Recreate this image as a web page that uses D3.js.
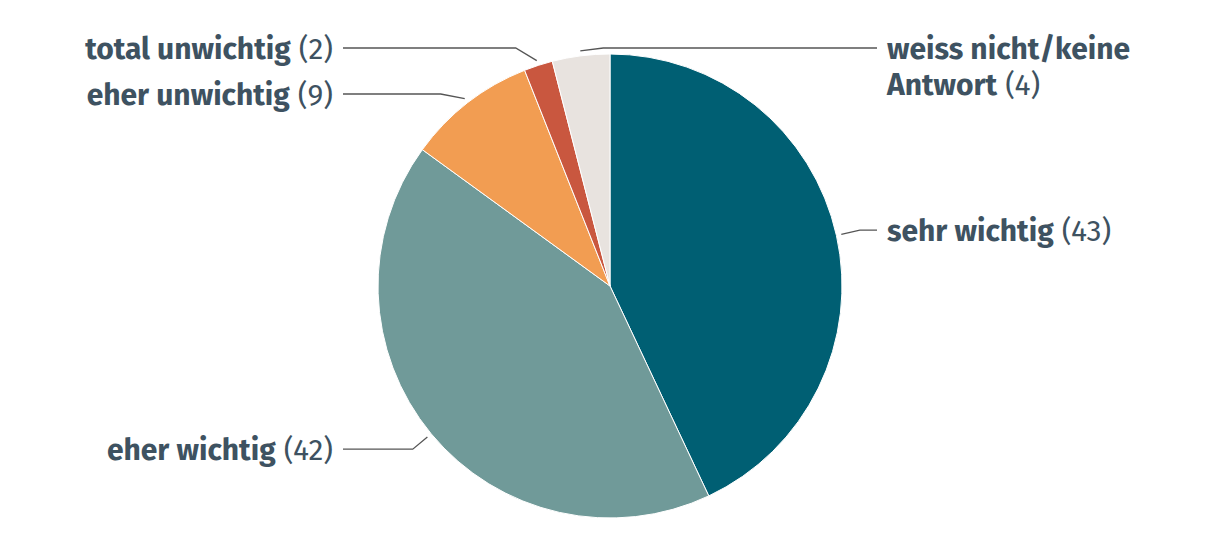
<!DOCTYPE html>
<html>
<head>
<meta charset="utf-8">
<script src="https://cdn.jsdelivr.net/npm/d3@7"></script>
<style>
  body { margin: 0; background: #fff; }
  text { font-family: "Fira Sans", "Open Sans", Roboto, sans-serif; fill: #3e5261; }
</style>
</head>
<body>
<svg width="1220" height="552"></svg>
<script>
// answers, clockwise from 12 o'clock
const labels = ['sehr wichtig', 'eher wichtig', 'eher unwichtig', 'total unwichtig', 'weiss nicht/keine\nAntwort'];
const values = [43, 42, 9, 2, 4];
const colors = ['#005f73', '#709a99', '#f29d52', '#c9573f', '#e8e3df'];

const svg = d3.select('svg');
const cx = 610, cy = 286, R = 232;
const fontSize = 30;

const pie = d3.pie().sort(null).value(d => d);
const arc = d3.arc().innerRadius(0).outerRadius(R);
const arcs = pie(values);

const g = svg.append('g').attr('transform', `translate(${cx}, ${cy})`);

g.selectAll('path')
  .data(arcs)
  .enter()
  .append('path')
  .attr('d', arc)
  .attr('fill', (d, i) => colors[i])
  .attr('stroke', '#fff')
  .attr('stroke-width', 1);

// label placement: elbow on a ring just outside the pie, then horizontal run
const ring = R + 24;
const items = arcs.map((a, i) => {
  const mid = (a.startAngle + a.endAngle) / 2;
  const natural = Math.sin(mid) >= 0 ? 1 : -1;
  // tiny slice right next to 12 o'clock gets pushed to the right side
  const side = mid > Math.PI * 2 * 0.97 ? 1 : natural;
  return {
    i, mid, side, natural,
    p0: [Math.sin(mid) * (R + 5), -Math.cos(mid) * (R + 5)],
    y: -Math.cos(mid) * ring
  };
});

// avoid overlaps on each side
const minY = 48 - cy, gap = 46;
[-1, 1].forEach(s => {
  const list = items.filter(d => d.side === s).sort((a, b) => a.y - b.y);
  list.forEach((d, k) => {
    d.y = Math.max(d.y, minY);
    if (k > 0) d.y = Math.max(d.y, list[k - 1].y + gap);
  });
});

items.forEach(d => {
  if (d.side === d.natural) {
    d.ex = d.side * Math.sqrt(Math.max(0, ring * ring - d.y * d.y));
  } else {
    d.ex = d.p0[0] + 23 * d.side;
  }
  d.lx = d.side * (R + 35);
});

g.selectAll('polyline')
  .data(items)
  .enter()
  .append('polyline')
  .attr('points', d => [d.p0, [d.ex, d.y], [d.lx, d.y]].map(p => p.join(',')).join(' '))
  .attr('fill', 'none')
  .attr('stroke', '#555')
  .attr('stroke-width', 1.3);

const lineH = 36;
items.forEach(d => {
  const lines = labels[d.i].split('\n');
  const t = g.append('text')
    .attr('x', d.side * (R + 45))
    .attr('y', d.y + 10.5)
    .attr('text-anchor', d.side > 0 ? 'start' : 'end')
    .style('font-size', fontSize + 'px');
  lines.forEach((ln, k) => {
    const ts = t.append('tspan')
      .attr('font-weight', 700)
      .text(ln);
    if (k > 0) ts.attr('x', d.side * (R + 45)).attr('dy', lineH);
    if (k === lines.length - 1) {
      t.append('tspan')
        .attr('font-weight', 400)
        .text(' (' + values[d.i] + ')');
    }
  });
});
</script>
</body>
</html>
